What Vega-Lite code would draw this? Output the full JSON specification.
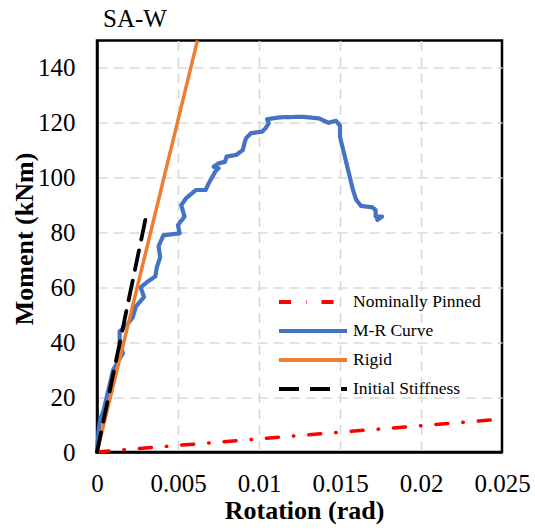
{
  "$schema": "https://vega.github.io/schema/vega-lite/v6.json",
  "autosize": {"type": "none"},
  "padding": {"left": 97, "top": 40.5, "right": 33, "bottom": 79},
  "width": 405,
  "height": 411.5,
  "background": "white",
  "title": {"text": "SA-W", "anchor": "start", "frame": "group", "font": "Liberation Serif", "fontSize": 25, "fontWeight": "normal", "color": "#000000", "offset": 2, "dx": 6},
  "config": {
    "view": {"stroke": "#000000", "strokeWidth": 2.5},
    "axis": {
      "labelFont": "Liberation Serif", "labelFontSize": 25, "labelColor": "#000000",
      "titleFont": "Liberation Serif", "titleFontSize": 26, "titleFontWeight": "bold", "titleColor": "#000000",
      "domainColor": "#000000", "domainWidth": 2.5, "ticks": false,
      "gridColor": "#d9d9d9", "gridWidth": 1.6, "gridDash": [10, 6]
    },
    "style": {"guide-label": {"font": "Liberation Serif"}, "guide-title": {"font": "Liberation Serif"}},
    "legend": {"labelFont": "Liberation Serif", "labelFontSize": 17.5, "labelColor": "#000000"}
  },
  "data": {"values": [
    {"series": "Nominally Pinned", "i": 0, "rot": 0, "m": 0},
    {"series": "Nominally Pinned", "i": 1, "rot": 0.025, "m": 12},
    {"series": "Rigid", "i": 0, "rot": 0, "m": 0},
    {"series": "Rigid", "i": 1, "rot": 0.0062, "m": 150},
    {"series": "Initial Stiffness", "i": 0, "rot": 0, "m": 0},
    {"series": "Initial Stiffness", "i": 1, "rot": 0.00305, "m": 86.5},
    {"series": "M-R Curve", "i": 0, "rot": 0, "m": 0},
    {"series": "M-R Curve", "i": 1, "rot": 0.0001, "m": 8},
    {"series": "M-R Curve", "i": 2, "rot": 0.0002, "m": 12},
    {"series": "M-R Curve", "i": 3, "rot": 0.0004, "m": 15},
    {"series": "M-R Curve", "i": 4, "rot": 0.0006, "m": 20},
    {"series": "M-R Curve", "i": 5, "rot": 0.0008, "m": 25},
    {"series": "M-R Curve", "i": 6, "rot": 0.001, "m": 30},
    {"series": "M-R Curve", "i": 7, "rot": 0.0013, "m": 33},
    {"series": "M-R Curve", "i": 8, "rot": 0.0016, "m": 36},
    {"series": "M-R Curve", "i": 9, "rot": 0.0014, "m": 40},
    {"series": "M-R Curve", "i": 10, "rot": 0.0014, "m": 44},
    {"series": "M-R Curve", "i": 11, "rot": 0.0018, "m": 46},
    {"series": "M-R Curve", "i": 12, "rot": 0.0022, "m": 49},
    {"series": "M-R Curve", "i": 13, "rot": 0.0024, "m": 53},
    {"series": "M-R Curve", "i": 14, "rot": 0.0029, "m": 56.5},
    {"series": "M-R Curve", "i": 15, "rot": 0.0027, "m": 60},
    {"series": "M-R Curve", "i": 16, "rot": 0.0031, "m": 62},
    {"series": "M-R Curve", "i": 17, "rot": 0.0036, "m": 64},
    {"series": "M-R Curve", "i": 18, "rot": 0.0037, "m": 67.5},
    {"series": "M-R Curve", "i": 19, "rot": 0.0039, "m": 71},
    {"series": "M-R Curve", "i": 20, "rot": 0.0038, "m": 75},
    {"series": "M-R Curve", "i": 21, "rot": 0.0041, "m": 79},
    {"series": "M-R Curve", "i": 22, "rot": 0.0051, "m": 79.7},
    {"series": "M-R Curve", "i": 23, "rot": 0.005, "m": 82.7},
    {"series": "M-R Curve", "i": 24, "rot": 0.0054, "m": 85.8},
    {"series": "M-R Curve", "i": 25, "rot": 0.0052, "m": 90},
    {"series": "M-R Curve", "i": 26, "rot": 0.0055, "m": 92.5},
    {"series": "M-R Curve", "i": 27, "rot": 0.0061, "m": 95.5},
    {"series": "M-R Curve", "i": 28, "rot": 0.0067, "m": 95.5},
    {"series": "M-R Curve", "i": 29, "rot": 0.0069, "m": 98},
    {"series": "M-R Curve", "i": 30, "rot": 0.0073, "m": 102.2},
    {"series": "M-R Curve", "i": 31, "rot": 0.0075, "m": 103.4},
    {"series": "M-R Curve", "i": 32, "rot": 0.0072, "m": 104},
    {"series": "M-R Curve", "i": 33, "rot": 0.0075, "m": 105.2},
    {"series": "M-R Curve", "i": 34, "rot": 0.0079, "m": 105.8},
    {"series": "M-R Curve", "i": 35, "rot": 0.008, "m": 107.7},
    {"series": "M-R Curve", "i": 36, "rot": 0.0086, "m": 108.3},
    {"series": "M-R Curve", "i": 37, "rot": 0.009, "m": 110.1},
    {"series": "M-R Curve", "i": 38, "rot": 0.0091, "m": 112.5},
    {"series": "M-R Curve", "i": 39, "rot": 0.0092, "m": 114.4},
    {"series": "M-R Curve", "i": 40, "rot": 0.0095, "m": 116.2},
    {"series": "M-R Curve", "i": 41, "rot": 0.0102, "m": 116.8},
    {"series": "M-R Curve", "i": 42, "rot": 0.0104, "m": 118},
    {"series": "M-R Curve", "i": 43, "rot": 0.0106, "m": 119.8},
    {"series": "M-R Curve", "i": 44, "rot": 0.0105, "m": 121.3},
    {"series": "M-R Curve", "i": 45, "rot": 0.0113, "m": 122},
    {"series": "M-R Curve", "i": 46, "rot": 0.0127, "m": 122.2},
    {"series": "M-R Curve", "i": 47, "rot": 0.0137, "m": 121.6},
    {"series": "M-R Curve", "i": 48, "rot": 0.0143, "m": 120},
    {"series": "M-R Curve", "i": 49, "rot": 0.01475, "m": 120.7},
    {"series": "M-R Curve", "i": 50, "rot": 0.015, "m": 119},
    {"series": "M-R Curve", "i": 51, "rot": 0.015, "m": 114.9},
    {"series": "M-R Curve", "i": 52, "rot": 0.0154, "m": 105.2},
    {"series": "M-R Curve", "i": 53, "rot": 0.0158, "m": 95.5},
    {"series": "M-R Curve", "i": 54, "rot": 0.016, "m": 91.9},
    {"series": "M-R Curve", "i": 55, "rot": 0.0163, "m": 89.7},
    {"series": "M-R Curve", "i": 56, "rot": 0.017, "m": 89.2},
    {"series": "M-R Curve", "i": 57, "rot": 0.0172, "m": 88.2},
    {"series": "M-R Curve", "i": 58, "rot": 0.0172, "m": 85.8},
    {"series": "M-R Curve", "i": 59, "rot": 0.0176, "m": 85.8},
    {"series": "M-R Curve", "i": 60, "rot": 0.0173, "m": 84.6}
  ]},
  "encoding": {
    "x": {"field": "rot", "type": "quantitative",
      "scale": {"domain": [0, 0.025], "nice": false},
      "axis": {"title": "Rotation (rad)", "values": [0, 0.005, 0.01, 0.015, 0.02, 0.025], "format": "~g", "labelPadding": 19, "titleBaseline": "alphabetic", "titleY": 66, "titleX": 207, "labelFlush": false,
        "labelFont": "Liberation Serif", "titleFont": "Liberation Serif",
        "gridOpacity": {"condition": {"test": "datum.value >= 0.025 || datum.value <= 0", "value": 0}, "value": 1}}},
    "y": {"field": "m", "type": "quantitative",
      "scale": {"domain": [0, 150], "nice": false},
      "axis": {"title": "Moment (kNm)", "values": [0, 20, 40, 60, 80, 100, 120, 140], "labelPadding": 22, "titleBaseline": "alphabetic", "titleX": -65, "titleY": 198, "labelFlush": false,
        "labelFont": "Liberation Serif", "titleFont": "Liberation Serif",
        "gridOpacity": {"condition": {"test": "datum.value <= 0", "value": 0}, "value": 1}}},
    "order": {"field": "i", "type": "quantitative"},
    "color": {"field": "series", "type": "nominal",
      "scale": {"domain": ["Nominally Pinned", "M-R Curve", "Rigid", "Initial Stiffness"], "range": ["#ff0000", "#4472c4", "#ed7d31", "#000000"]},
      "legend": {"title": null, "orient": "none", "legendX": 180, "legendY": 247, "symbolType": "stroke", "symbolSize": 4624, "symbolStrokeWidth": 4, "clipHeight": 29, "rowPadding": 0, "labelOffset": 4, "padding": 0, "labelFont": "Liberation Serif"}},
    "strokeDash": {"field": "series", "type": "nominal",
      "scale": {"domain": ["Nominally Pinned", "M-R Curve", "Rigid", "Initial Stiffness"], "range": [[12, 15, 0.5, 15], [1, 0], [1, 0], [20, 11]]},
      "legend": {"title": null, "orient": "none", "legendX": 180, "legendY": 247, "symbolType": "stroke", "symbolSize": 4624, "symbolStrokeWidth": 4, "clipHeight": 29, "rowPadding": 0, "labelOffset": 4, "padding": 0, "labelFont": "Liberation Serif"}}
  },
  "layer": [
    {"transform": [{"filter": "datum.series === 'Nominally Pinned'"}], "mark": {"type": "line", "strokeWidth": 3.5, "strokeCap": "round"}},
    {"transform": [{"filter": "datum.series === 'M-R Curve'"}], "mark": {"type": "line", "strokeWidth": 4.2, "strokeCap": "round", "strokeJoin": "round"}},
    {"transform": [{"filter": "datum.series === 'Rigid'"}], "mark": {"type": "line", "strokeWidth": 3.5}},
    {"transform": [{"filter": "datum.series === 'Initial Stiffness'"}], "mark": {"type": "line", "strokeWidth": 3.8, "strokeCap": "round"}}
  ]
}
